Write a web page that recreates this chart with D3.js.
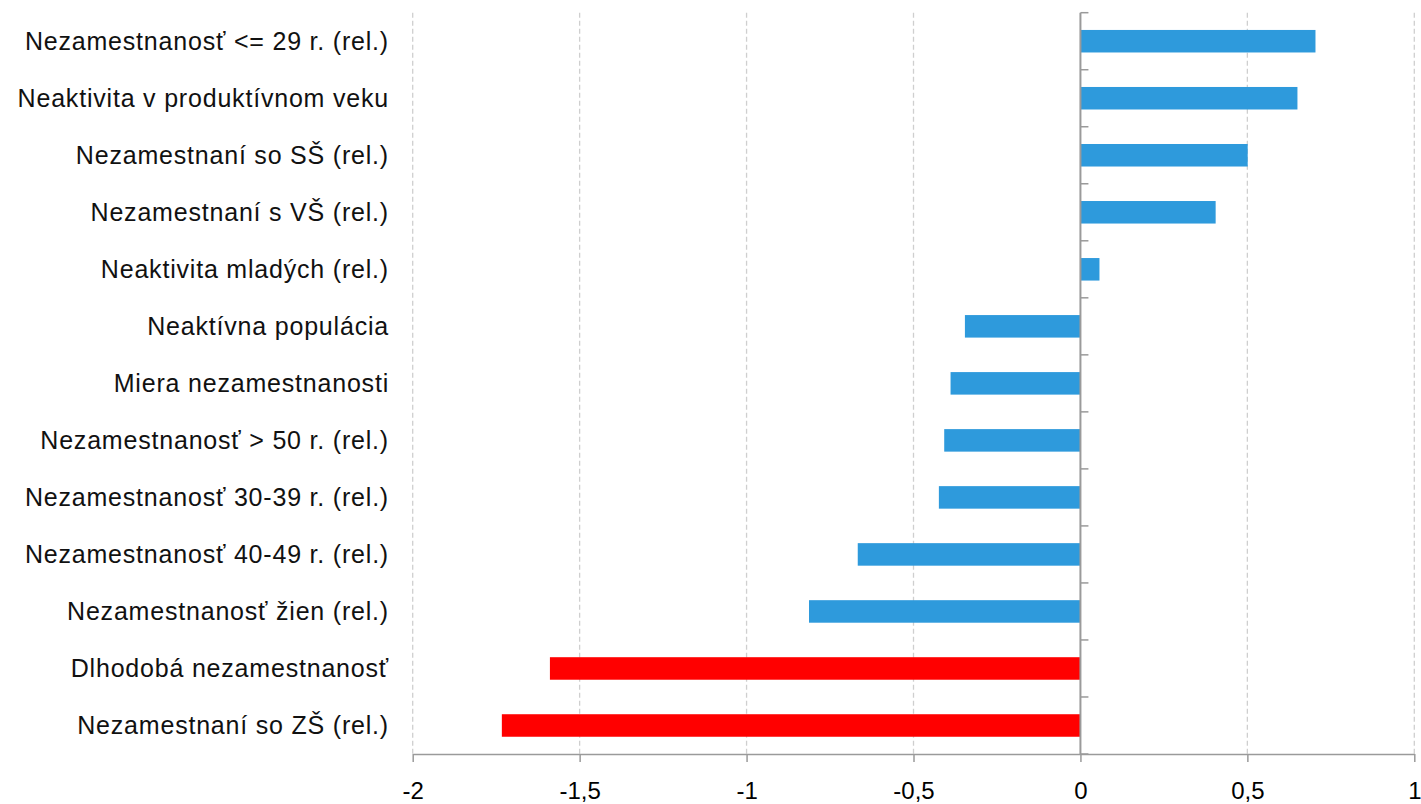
<!DOCTYPE html>
<html><head><meta charset="utf-8">
<script src="https://cdn.jsdelivr.net/npm/d3@7"></script>
<style>body{margin:0;background:#fff}svg{display:block}</style>
</head><body>
<svg id="c" width="1421" height="804"></svg>
<script>
const categories = [
  "Nezamestnanosť <= 29 r. (rel.)",
  "Neaktivita v produktívnom veku",
  "Nezamestnaní so SŠ (rel.)",
  "Nezamestnaní s VŠ (rel.)",
  "Neaktivita mladých (rel.)",
  "Neaktívna populácia",
  "Miera nezamestnanosti",
  "Nezamestnanosť > 50 r. (rel.)",
  "Nezamestnanosť 30-39 r. (rel.)",
  "Nezamestnanosť 40-49 r. (rel.)",
  "Nezamestnanosť žien (rel.)",
  "Dlhodobá nezamestnanosť",
  "Nezamestnaní so ZŠ (rel.)"
];
const values = [0.704, 0.650, 0.501, 0.405, 0.057, -0.346, -0.389, -0.408, -0.424, -0.667, -0.813, -1.589, -1.733];
const highlighted = [false,false,false,false,false,false,false,false,false,false,false,true,true];
const xTicks = [-2, -1.5, -1, -0.5, 0, 0.5, 1];
const xTickLabels = ["-2", "-1,5", "-1", "-0,5", "0", "0,5", "1"];

(function(){
const svg = d3.select("#c");
const mLeft = 412.7, mRight = 1414.3, mTop = 12.7, mBottom = 754;
const x = d3.scaleLinear().domain([-2, 1]).range([mLeft, mRight]);
const y = d3.scaleBand().domain(categories).range([mTop, mBottom]).paddingInner(0.605).paddingOuter(0.3025);
const yb = d3.scaleBand().domain(categories).range([mTop, mBottom]);

// grid
svg.append("g").selectAll("line").data(xTicks.filter(d => d !== 0)).join("line")
  .attr("x1", d => x(d)).attr("x2", d => x(d))
  .attr("y1", mTop).attr("y2", mBottom)
  .attr("stroke", "#cfcfcf").attr("stroke-width", 1.3).attr("stroke-dasharray", "5,3");

// bars
svg.append("g").selectAll("rect").data(categories).join("rect")
  .attr("x", (d, i) => x(Math.min(0, values[i])))
  .attr("width", (d, i) => Math.abs(x(values[i]) - x(0)))
  .attr("y", d => y(d))
  .attr("height", y.bandwidth())
  .attr("fill", (d, i) => highlighted[i] ? "#ff0000" : "#2e9adc");

// x axis
const xAxis = d3.axisBottom(x).tickValues(xTicks).tickFormat((d, i) => xTickLabels[i]).tickSize(8).tickSizeOuter(0);
const gx = svg.append("g").attr("transform", `translate(0,${mBottom})`).call(xAxis);
gx.select(".domain").attr("stroke", "#9a9a9a").attr("stroke-width", 1.5);
gx.selectAll(".tick line").attr("stroke", "#9a9a9a").attr("stroke-width", 1.5);
gx.selectAll(".tick text").attr("dy", 0).attr("y", 45).attr("fill", "#000")
  .style("font-family", "'Liberation Sans', Arial, sans-serif").style("font-size", "24px");

// zero line with ticks at band boundaries
const zx = x(0);
svg.append("line").attr("x1", zx).attr("x2", zx).attr("y1", mTop).attr("y2", mBottom)
  .attr("stroke", "#9a9a9a").attr("stroke-width", 2);
const bounds = categories.map(c => yb(c)).concat([mBottom]);
svg.append("g").selectAll("line").data(bounds).join("line")
  .attr("x1", zx).attr("x2", zx + 8).attr("y1", d => d).attr("y2", d => d)
  .attr("stroke", "#9a9a9a").attr("stroke-width", 1.5);

// category labels
svg.append("g").selectAll("text").data(categories).join("text")
  .attr("x", 389).attr("y", d => y(d) + y.bandwidth() / 2)
  .attr("dy", "0.35em").attr("text-anchor", "end").attr("fill", "#111")
  .style("font-family", "'Liberation Sans', Arial, sans-serif").style("font-size", "25px")
  .style("letter-spacing", "0.8px")
  .text(d => d);
})();
</script>
</body></html>
